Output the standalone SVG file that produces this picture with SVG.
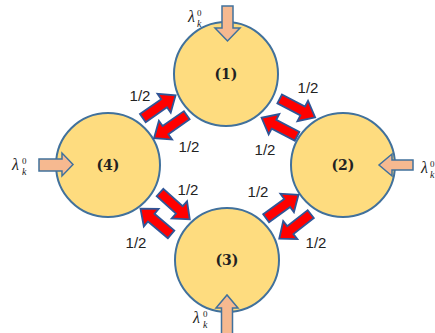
<svg xmlns="http://www.w3.org/2000/svg" xmlns:xlink="http://www.w3.org/1999/xlink" width="435" height="333" viewBox="0 0 435 333">
  <style>
    .queue { fill: #FEDC7F; stroke: #41719C; stroke-width: 2; }
    .inflow { fill: #F6B990; stroke: #41719C; stroke-width: 1.5; }
    .flow { fill: #FF0000; stroke: #2F5597; stroke-width: 1.8; stroke-linejoin: miter; }
    .qlabel { font-family: "DejaVu Serif", "Liberation Serif", serif; font-weight: bold; font-size: 14px; fill: #222; text-anchor: middle; }
    .prob { font-family: "Liberation Sans", Arial, sans-serif; font-size: 15px; fill: #222; text-anchor: middle; }
    .lam { font-family: "Liberation Serif", "DejaVu Serif", serif; font-style: italic; font-size: 16px; fill: #222; }
    .sup { font-style: normal; font-size: 9px; }
    .sub { font-style: italic; font-size: 10px; }
  </style>
  <defs>
    <!-- block arrow, 40 long, centred on the origin, pointing along +x -->
    <polygon id="flowArrow" points="-20,-5 6,-5 6,-11.5 20,0 6,11.5 6,5 -20,5"/>
  </defs>

  <!-- queue 1 (top) -->
  <g id="node1">
    <circle class="queue" cx="226" cy="74" r="52"/>
    <text class="qlabel" x="226" y="79">(1)</text>
    <polygon class="inflow" points="222,6 233,6 233,28 240,28 227.5,41 215,28 222,28"/>
    <text class="lam" x="188" y="22">λ<tspan class="sup" x="197" y="16">0</tspan><tspan class="sub" x="197" y="27">k</tspan></text>
  </g>

  <!-- queue 2 (right) -->
  <g id="node2">
    <circle class="queue" cx="343" cy="165" r="52"/>
    <text class="qlabel" x="343" y="170">(2)</text>
    <polygon class="inflow" points="413,160 392,160 392,154 379,165 392,176 392,170 413,170"/>
    <text class="lam" x="421" y="173">λ<tspan class="sup" x="430" y="167">0</tspan><tspan class="sub" x="430" y="178">k</tspan></text>
  </g>

  <!-- queue 3 (bottom) -->
  <g id="node3">
    <circle class="queue" cx="227" cy="260" r="52"/>
    <text class="qlabel" x="227" y="265">(3)</text>
    <polygon class="inflow" points="221.5,335 221.5,308 216,308 227,295 238,308 232.5,308 232.5,335"/>
    <text class="lam" x="193" y="323">λ<tspan class="sup" x="203" y="317">0</tspan><tspan class="sub" x="203" y="328">k</tspan></text>
  </g>

  <!-- queue 4 (left) -->
  <g id="node4">
    <circle class="queue" cx="108" cy="165" r="52"/>
    <text class="qlabel" x="108" y="170">(4)</text>
    <polygon class="inflow" points="39,159 62,159 62,153 73,164.5 62,176 62,171 39,171"/>
    <text class="lam" x="12" y="170">λ<tspan class="sup" x="22" y="164">0</tspan><tspan class="sub" x="22" y="175">k</tspan></text>
  </g>

  <!-- routing between neighbouring queues -->
  <g id="connectors">
    <use xlink:href="#flowArrow" class="flow" transform="translate(159.2,106.7) rotate(-35)"/>
    <use xlink:href="#flowArrow" class="flow" transform="translate(170.4,126.7) rotate(145)"/>
    <use xlink:href="#flowArrow" class="flow" transform="translate(297.4,108.2) rotate(27.5)"/>
    <use xlink:href="#flowArrow" class="flow" transform="translate(279.3,127) rotate(207.5)"/>
    <use xlink:href="#flowArrow" class="flow" transform="translate(282.3,206.5) rotate(-36)"/>
    <use xlink:href="#flowArrow" class="flow" transform="translate(295,226.4) rotate(142)"/>
    <use xlink:href="#flowArrow" class="flow" transform="translate(174.9,205.9) rotate(42)"/>
    <use xlink:href="#flowArrow" class="flow" transform="translate(155.8,221.5) rotate(220)"/>

    <text class="prob" x="140" y="101">1/2</text>
    <text class="prob" x="189" y="152">1/2</text>
    <text class="prob" x="308" y="93">1/2</text>
    <text class="prob" x="265" y="155">1/2</text>
    <text class="prob" x="258" y="197">1/2</text>
    <text class="prob" x="316" y="248">1/2</text>
    <text class="prob" x="188" y="195">1/2</text>
    <text class="prob" x="136" y="248">1/2</text>
  </g>
</svg>
